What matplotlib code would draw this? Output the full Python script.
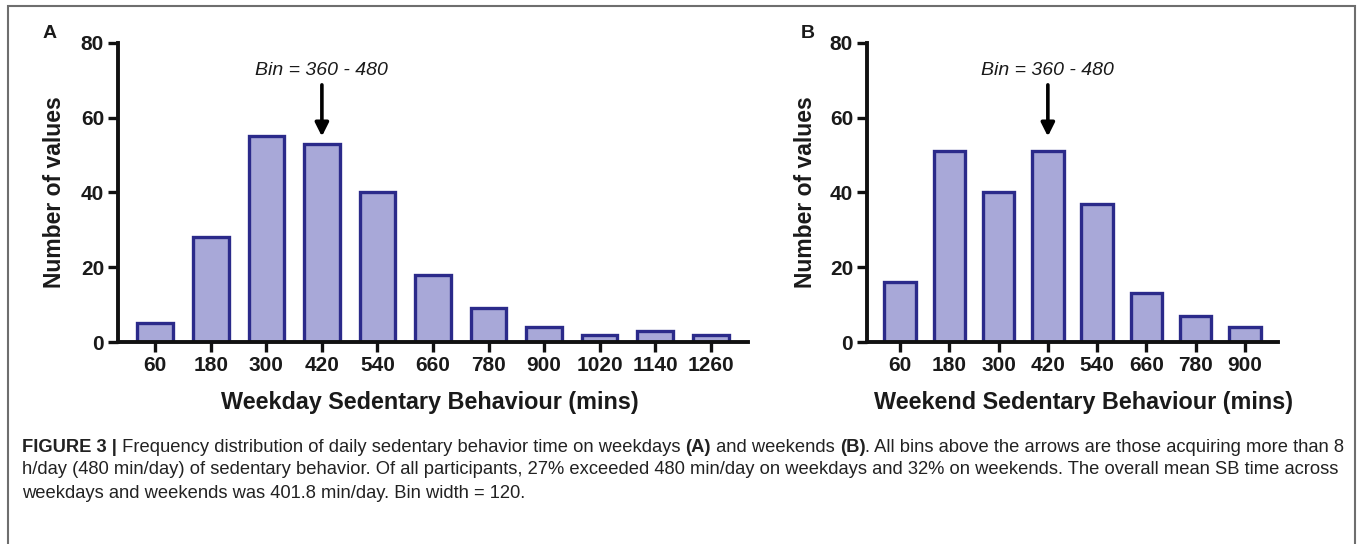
import matplotlib
matplotlib.use("Agg")
import matplotlib.pyplot as plt
from matplotlib.patches import Rectangle

plt.rcParams['font.family'] = ['Liberation Sans', 'DejaVu Sans']

# Data
weekday_bins = ["60", "180", "300", "420", "540", "660", "780", "900", "1020", "1140", "1260"]
weekday_counts = [5, 28, 55, 53, 40, 18, 9, 4, 2, 3, 2]
weekend_bins = ["60", "180", "300", "420", "540", "660", "780", "900"]
weekend_counts = [16, 51, 40, 51, 37, 13, 7, 4]
y_ticks = [0, 20, 40, 60, 80]
arrow_label = "Bin = 360 - 480"
arrow_bin = "420"

W, H = 1357, 544
fig = plt.figure(figsize=(W / 100, H / 100), dpi=100)
fig.patch.set_facecolor('white')

fill_c = '#a8a8d8'
edge_c = '#2b2a8a'
txt_c = '#1a1a1a'


def panel(left_px, width_px, ylab_px, xlab_px, bins, counts, xlabel):
    ax = fig.add_axes([left_px / W, 1 - 342 / H, width_px / W, 299 / H])
    x = list(range(len(bins)))
    ax.bar(x, counts, width=0.64, color=fill_c, edgecolor=edge_c, linewidth=2.4, zorder=2)
    ax.set_xlim(-0.67, len(bins) - 1 + 0.67)
    ax.set_ylim(0, 80)
    ax.set_xticks(x)
    ax.set_xticklabels(bins)
    ax.set_yticks(y_ticks)
    for s in ['top', 'right']:
        ax.spines[s].set_visible(False)
    for s in ['left', 'bottom']:
        ax.spines[s].set_linewidth(2.8)
        ax.spines[s].set_color('#111111')
        ax.spines[s].set_zorder(3)
    ax.tick_params(axis='both', width=2.4, length=7, color='#111111',
                   labelsize=15, pad=3)
    for lab in ax.get_xticklabels() + ax.get_yticklabels():
        lab.set_fontweight('bold')
        lab.set_color(txt_c)
    ax.set_xlabel(xlabel, fontsize=16.8, fontweight='bold', color=txt_c)
    ax.xaxis.set_label_coords((xlab_px - left_px) / width_px, (342 - 403) / 299)
    ax.set_ylabel("Number of values", fontsize=16.5, fontweight='bold', color=txt_c)
    ax.yaxis.set_label_coords((ylab_px - left_px) / width_px, 0.5)
    ax.xaxis.label.set_va('center')
    ax.yaxis.label.set_va('center')
    ax.set_facecolor('none')
    xi = bins.index(arrow_bin)
    ax.annotate('', xy=(xi, 55.0), xytext=(xi, 68.8),
                arrowprops=dict(arrowstyle='-|>,head_width=0.4,head_length=0.8',
                                color='black', lw=2.6, shrinkA=0, shrinkB=0))
    ax.text(xi, 72.6, arrow_label, ha='center', va='center', fontsize=14,
            style='italic', color=txt_c)
    return ax


axA = panel(118, 630, 55, 430, weekday_bins, weekday_counts, "Weekday Sedentary Behaviour (mins)")
axB = panel(867, 411, 805, 1083, weekend_bins, weekend_counts, "Weekend Sedentary Behaviour (mins)")

fig.text(50 / W, 1 - 33 / H, 'A', fontsize=14, fontweight='bold', ha='center', va='center', color=txt_c)
fig.text(808 / W, 1 - 33 / H, 'B', fontsize=14, fontweight='bold', ha='center', va='center', color=txt_c)

# Frame
fig.add_artist(Rectangle((8 / W, -0.05), (1355 - 8) / W, (1 - 6 / H) + 0.05,
                         transform=fig.transFigure, fill=False, edgecolor='#6e6e6e', lw=1.5))

# Caption
cap_x = 22 / W
line1_y = 1 - 447 / H
fs = 13.25
cap_c = '#222222'
segs = [("FIGURE 3 |", 'bold'),
        (" Frequency distribution of daily sedentary behavior time on weekdays ", 'normal'),
        ("(A)", 'bold'), (" and weekends ", 'normal'), ("(B)", 'bold'),
        (". All bins above the arrows are those acquiring more than 8", 'normal')]
cx = cap_x
for s, w in segs:
    tt = fig.text(cx, line1_y, s, fontsize=fs, fontweight=w, va='center', color=cap_c)
    fig.canvas.draw()
    cx = tt.get_window_extent().x1 / W
fig.text(cap_x, 1 - 470 / H,
         "h/day (480 min/day) of sedentary behavior. Of all participants, 27% exceeded 480 min/day on weekdays and 32% on weekends. The overall mean SB time across",
         fontsize=fs, va='center', color=cap_c)
fig.text(cap_x, 1 - 493 / H,
         "weekdays and weekends was 401.8 min/day. Bin width = 120.",
         fontsize=fs, va='center', color=cap_c)

fig.savefig('out.png', dpi=100, facecolor='white')
